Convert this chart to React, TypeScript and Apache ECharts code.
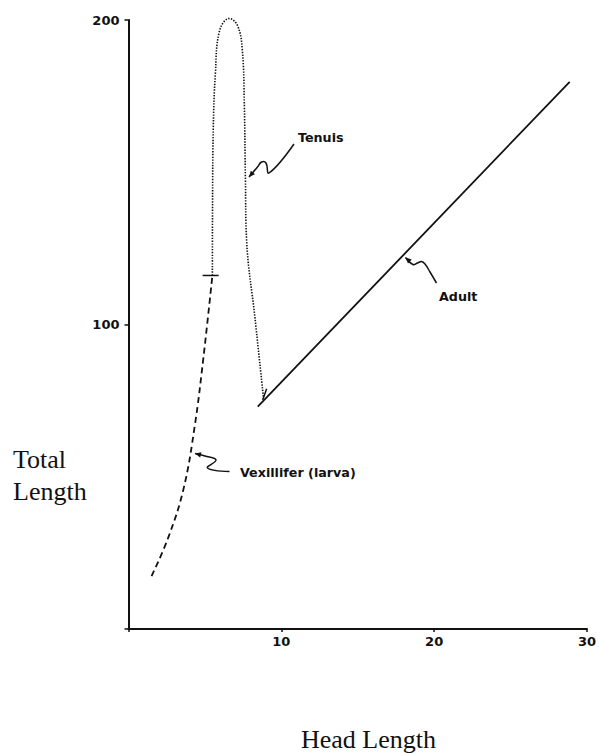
import React, { useEffect, useRef } from "react";
import * as echarts from "echarts";

// Vexillifer (larva) – dashed
const vexHead = [1.51, 2.6, 3.6, 4.33, 4.9, 5.49];
const vexTotal = [17.4, 30, 46, 66.5, 89, 116.1];

// Tenuis – dotted
const tenHead = [5.49, 5.5, 5.55, 5.68, 5.96, 6.6, 7.15, 7.45, 7.58, 7.65, 7.73, 8.28, 8.83];
const tenTotal = [116.1, 140, 165, 182, 196.5, 200.5, 198, 190, 172, 148, 127.6, 102, 76];

// Adult – solid
const adultHead = [8.46, 28.87];
const adultTotal = [73.0, 179.7];

// small junction marks
const larvaTickHead = [4.85, 5.9];
const larvaTickTotal = [116.1, 116.1];
const adultTickHead = [9.04, 8.78];
const adultTickTotal = [78.9, 75.2];

const xTicks = [0, 10, 20, 30];
const yTicks = [0, 100, 200];

const zip = (xs: number[], ys: number[]) => xs.map((x, i) => [x, ys[i]]);

const INK = "#111";

function arrowHead(tip: number[], from: number[], size = 6) {
  const dx = tip[0] - from[0];
  const dy = tip[1] - from[1];
  const len = Math.hypot(dx, dy) || 1;
  const ux = dx / len, uy = dy / len;
  const px = -uy, py = ux;
  return [
    tip,
    [tip[0] - ux * size + px * size * 0.45, tip[1] - uy * size + py * size * 0.45],
    [tip[0] - ux * size - px * size * 0.45, tip[1] - uy * size - py * size * 0.45],
  ];
}

function squiggle(points: number[][]) {
  const n = points.length;
  return [
    {
      type: "polyline",
      shape: { points, smooth: 0.4 },
      style: { stroke: INK, lineWidth: 1.5, fill: "none" },
      silent: true,
    },
    {
      type: "polygon",
      shape: { points: arrowHead(points[n - 1], points[n - 2]) },
      style: { fill: INK },
      silent: true,
    },
  ];
}

const annFont = { fontFamily: "DejaVu Sans", fontWeight: "bold", fontSize: 12.7, fill: INK };
const serifFont = { fontFamily: "Liberation Serif", fontSize: 26, fill: INK };

export default function App() {
  const ref = useRef<HTMLDivElement>(null);
  useEffect(() => {
    document.body.style.margin = "0";
    if (!ref.current) return;
    const chart = echarts.init(ref.current, null, { renderer: "svg" });
    const tickLabel = {
      fontFamily: "DejaVu Sans",
      fontWeight: "bold",
      fontSize: 13,
      color: INK,
    };
    chart.setOption({
      animation: false,
      backgroundColor: "#fff",
      grid: { left: 128.5, right: 9.5, top: 20, bottom: 124 },
      xAxis: {
        type: "value",
        min: xTicks[0],
        max: xTicks[xTicks.length - 1],
        interval: 10,
        splitLine: { show: false },
        axisLine: { lineStyle: { color: INK, width: 2 } },
        axisTick: { length: 3, lineStyle: { color: INK, width: 1.5 } },
        axisLabel: {
          ...tickLabel,
          margin: 6,
          formatter: (v: number) => (v === 0 ? "" : String(v)),
        },
      },
      yAxis: {
        type: "value",
        min: yTicks[0],
        max: yTicks[yTicks.length - 1],
        interval: 100,
        splitLine: { show: false },
        axisLine: { lineStyle: { color: INK, width: 2 } },
        axisTick: { length: 4, lineStyle: { color: INK, width: 1.5 } },
        axisLabel: {
          ...tickLabel,
          margin: 9,
          formatter: (v: number) => (v === 0 ? "" : String(v)),
        },
      },
      series: [
        {
          name: "Vexillifer (larva)",
          type: "line",
          data: zip(vexHead, vexTotal),
          smooth: 0.4,
          showSymbol: false,
          clip: false,
          lineStyle: { color: INK, width: 1.8, type: [6, 4] },
        },
        {
          name: "Tenuis",
          type: "line",
          data: zip(tenHead, tenTotal),
          smooth: 0.4,
          showSymbol: false,
          clip: false,
          lineStyle: { color: INK, width: 1.6, type: [1.4, 1.4] },
        },
        {
          name: "Adult",
          type: "line",
          data: zip(adultHead, adultTotal),
          showSymbol: false,
          clip: false,
          lineStyle: { color: INK, width: 1.8 },
        },
        {
          type: "line",
          data: zip(larvaTickHead, larvaTickTotal),
          showSymbol: false,
          clip: false,
          lineStyle: { color: INK, width: 1.5 },
        },
        {
          type: "line",
          data: zip(adultTickHead, adultTickTotal),
          showSymbol: false,
          clip: false,
          lineStyle: { color: INK, width: 1.5 },
        },
      ],
      graphic: [
        { type: "text", left: 298, top: 131, style: { text: "Tenuis", ...annFont }, silent: true },
        { type: "text", left: 439, top: 290, style: { text: "Adult", ...annFont }, silent: true },
        { type: "text", left: 240, top: 466, style: { text: "Vexillifer (larva)", ...annFont }, silent: true },
        ...squiggle([
          [294, 144],
          [269, 173],
          [266, 163],
          [261.5, 162],
          [257.5, 167],
          [249, 177],
        ]),
        ...squiggle([
          [436.5, 283],
          [430, 272],
          [425, 264],
          [421.5, 261.5],
          [417.5, 263],
          [413, 264.5],
          [405.5, 257.5],
        ]),
        ...squiggle([
          [229.5, 471.5],
          [207.5, 468],
          [216, 460],
          [205, 456],
          [195, 453.5],
        ]),
        { type: "text", left: 13, top: 446, style: { text: "Total", ...serifFont }, silent: true },
        { type: "text", left: 13, top: 478, style: { text: "Length", ...serifFont }, silent: true },
        { type: "text", left: 301, top: 726, style: { text: "Head Length", ...serifFont }, silent: true },
      ],
    });
    return () => chart.dispose();
  }, []);
  return <div ref={ref} style={{ width: 599, height: 753 }} />;
}
